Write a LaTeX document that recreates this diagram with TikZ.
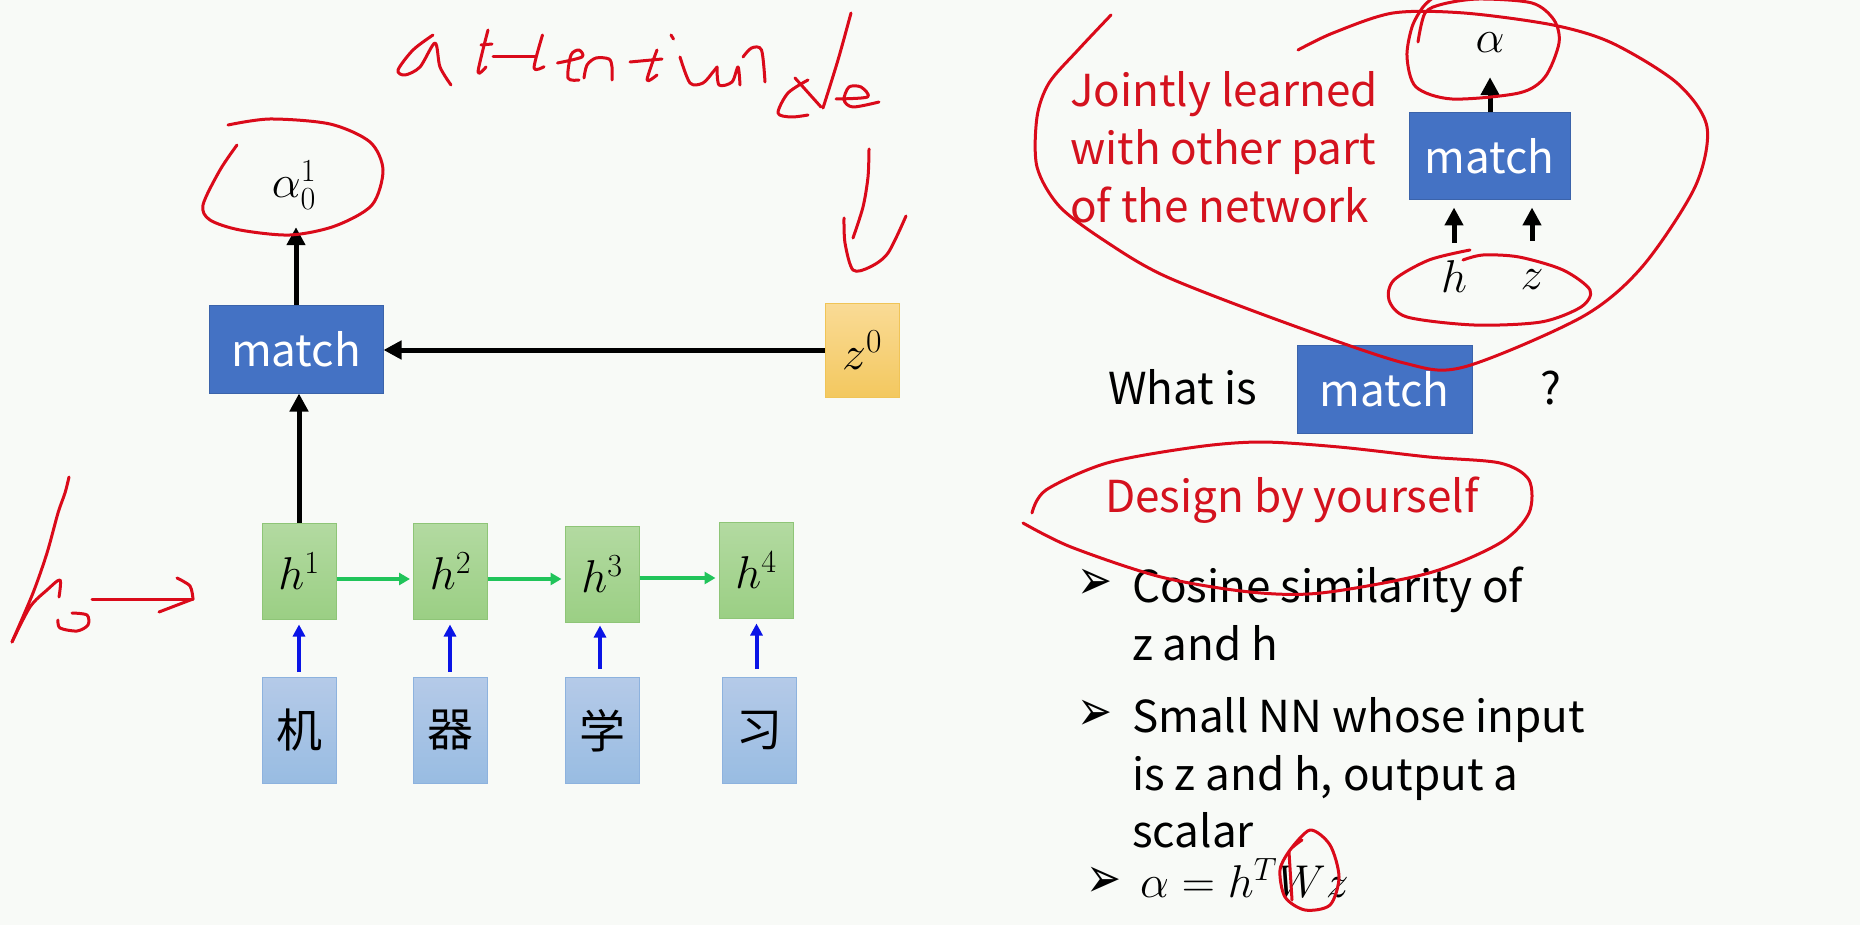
\RequirePackage{fix-cm}
\documentclass[tikz,border=0pt]{standalone}
\usepackage{fontspec}
\usepackage{graphicx}
\setmainfont{Noto Sans CJK SC}
\newfontfamily\dejavu{DejaVu Sans}
\usetikzlibrary{arrows.meta}
\definecolor{bgc}{HTML}{F8FAF7}
\definecolor{mblue}{HTML}{4472C4}
\definecolor{mborder}{HTML}{3B63AA}
\definecolor{htop}{HTML}{B3DAA1}
\definecolor{hbot}{HTML}{9BCF84}
\definecolor{hborder}{HTML}{8EC577}
\definecolor{itop}{HTML}{B5CAE8}
\definecolor{ibot}{HTML}{98BCE2}
\definecolor{iborder}{HTML}{8DB2DE}
\definecolor{ztop}{HTML}{FADB96}
\definecolor{zbot}{HTML}{F3C85F}
\definecolor{zborder}{HTML}{F0C457}
\definecolor{agreen}{HTML}{20C45A}
\definecolor{ablue}{HTML}{0A14E6}
\definecolor{pen}{HTML}{DA0A1A}
\definecolor{txtred}{HTML}{D4121E}
\newcommand{\bulletglyph}{\scalebox{1.1}[1.5]{➢}}
\begin{document}
\begin{tikzpicture}[x=1pt,y=-1pt,
  matchbox/.style={draw=mborder,fill=mblue,line width=1pt,inner sep=0pt,text=white,font=\fontsize{44}{50}\selectfont},
  hbox/.style={draw=hborder,line width=1pt,top color=htop,bottom color=hbot,minimum width=74pt,minimum height=96pt,inner sep=0pt,font=\fontsize{46}{50}\selectfont},
  inbox/.style={draw=iborder,line width=1pt,top color=itop,bottom color=ibot,minimum width=74pt,minimum height=106pt,inner sep=0pt,font=\fontsize{46}{50}\selectfont},
  zbox/.style={draw=zborder,line width=1pt,top color=ztop,bottom color=zbot,minimum width=74pt,minimum height=94pt,inner sep=0pt,font=\fontsize{48}{50}\selectfont},
  mathtxt/.style={font=\fontsize{46}{50}\selectfont},
  plain/.style={font=\fontsize{44}{50}\selectfont,anchor=base west,inner sep=0pt},
  redtxt/.style={plain,text=txtred},
  bul/.style={font=\dejavu\fontsize{38}{38}\selectfont,inner sep=0pt},
  blk/.style={line width=5pt,-{Triangle[length=18pt,width=18pt]}},
  grn/.style={line width=4pt,draw=agreen,-{Triangle[length=11pt,width=12pt]}},
  blu/.style={line width=4pt,draw=ablue,-{Triangle[length=12pt,width=12pt]}},
  penline/.style={draw=pen,line width=3pt,line cap=round,line join=round}
]
\fill[bgc] (0,0) rectangle (1860,925);
\useasboundingbox (0,0) rectangle (1860,925);

% ---------- left diagram ----------
\node[matchbox,minimum width=174pt,minimum height=88pt] (m1) at (296,349) {match};
\node[zbox] (z0) at (862,350) {$z^0$};
\node[mathtxt,anchor=base,text depth=12pt,inner sep=17pt] (a01) at (294,198) {$\alpha_0^1$};
\node[hbox] (h1) at (299,571) {$h^1$};
\node[hbox] (h2) at (450.5,571) {$h^2$};
\node[hbox] (h3) at (602,574) {$h^3$};
\node[hbox] (h4) at (756,570) {$h^4$};
\node[inbox] (c1) at (299,730.5) {机};
\node[inbox] (c2) at (450,730.5) {器};
\node[inbox] (c3) at (602,730.5) {学};
\node[inbox] (c4) at (759.5,730.5) {习};

\draw[blk] (m1.north) -- (m1.north |- a01.south);
\draw[blk] (z0.west) -- (z0.west -| m1.east);
\draw[blk] (h1.north) -- (h1.north |- m1.south);
\draw[grn,shorten >=3pt] ([yshift=-8pt]h1.east) -- ([yshift=-8pt]h1.east -| h2.west);
\draw[grn,shorten >=3pt] ([yshift=-8pt]h2.east) -- ([yshift=-8pt]h2.east -| h3.west);
\draw[grn,shorten >=3pt] ([yshift=-4pt]h3.east) -- ([yshift=-4pt]h3.east -| h4.west);
\draw[blu,shorten >=5pt,shorten <=5pt] (c1.north) -- (c1.north |- h1.south);
\draw[blu,shorten >=5pt,shorten <=5pt] (c2.north) -- (c2.north |- h2.south);
\draw[blu,shorten >=3pt,shorten <=8pt] ([xshift=-2pt]c3.north) -- ([xshift=-2pt]c3.north |- h3.south);
\draw[blu,shorten >=5pt,shorten <=8pt] ([xshift=-3pt]c4.north) -- ([xshift=-3pt]c4.north |- h4.south);

% ---------- right diagram ----------
\node[matchbox,minimum width=161pt,minimum height=87pt] (m2) at (1489.5,156.5) {match};
\node[mathtxt,anchor=base,text depth=0pt,inner sep=24pt] (al) at (1490,53) {$\alpha$};
\node[mathtxt,anchor=base,text height=31pt,text depth=0pt,inner sep=18pt] (hs) at (1454,292) {$h$};
\node[mathtxt,anchor=base,text height=31pt,text depth=0pt,inner sep=18pt] (zs) at (1532,290) {$z$};
\draw[blk] (m2.north -| al.south) -- (al.south);
\draw[blk,shorten >=7pt] (hs.north) -- (hs.north |- m2.south);
\draw[blk,shorten >=7pt] (zs.north) -- (zs.north |- m2.south);

\node[redtxt] (j1) at (1070,107) {Jointly learned};
\node[redtxt] (j2) at (1070,165) {with other part};
\node[redtxt] (j3) at (1070,223) {of the network};

\node[plain] (what) at (1108,404) {What is};
\node[matchbox,minimum width=175pt,minimum height=88pt] (m3) at (1384.5,389) {match};
\node[plain] (qm) at (1540,404) {?};

\node[redtxt] (design) at (1105,512) {Design by yourself};

\node[bul] (b1) at (1095,584) {\bulletglyph};
\node[plain] (t1) at (1132,602) {Cosine similarity of};
\node[plain] (t2) at (1132,660) {z and h};
\node[bul] (b2) at (1095,715) {\bulletglyph};
\node[plain] (t3) at (1132,732) {Small NN whose input};
\node[plain] (t4) at (1132,790) {is z and h, output a};
\node[plain] (t5) at (1132,847) {scalar};
\node[bul] (b3) at (1104,882) {\bulletglyph};
\node[mathtxt,anchor=base west,inner sep=0pt] (f) at (1140,897) {$\alpha = h^T W z$};

% ---------- handwritten annotations ----------
% attention de
\draw[penline] plot[smooth] coordinates {(433,35)(413,50)(398,70)(405,75)(420,67)(435,43)(440,67)(451,85)};
\draw[penline] plot[smooth] coordinates {(488,30)(478,72)(486,67)};
\draw[penline] (481,45) -- (492,44);
\draw[penline] (493,57) -- (536,57);
\draw[penline] plot[smooth] coordinates {(542.5,35)(534,68)(544,66.7)};
\draw[penline] plot[smooth] coordinates {(557.5,63)(582,57)(579,50)(571,55)(568,78)(579,80)};
\draw[penline] plot[smooth] coordinates {(584,78)(587,65)(596,58)(609,59)(612,67)(612,80)};
\draw[penline] (630,62) -- (662,59);
\draw[penline] plot[smooth] coordinates {(657,50)(647,80)(657,75)};
\draw[penline] (671,35) -- (673.5,39);
\draw[penline] plot[smooth] coordinates {(680,57)(690,83)(703,83)(713,72)(717,67)};
\draw[penline] plot[smooth] coordinates {(717,67)(719,85)(732,82)(738,67)(740,85)};
\draw[penline] plot[smooth] coordinates {(743,57)(751.5,48)(761.5,50)(765,82)};
\draw[penline] plot[smooth] coordinates {(808,80)(788,93)(778,113)(791,117)(808,115)};
\draw[penline] (795,78) -- (821,107);
\draw[penline] plot[smooth] coordinates {(851,13)(838,60)(823,108)};
\draw[penline] plot[smooth] coordinates {(836,99)(867.6,97)(861,87)(849,87)(844,100)(853,107)(879,102)};
% down arrow to z0
\draw[penline] plot[smooth] coordinates {(869,149)(868,177)(863,207)(853,238)};
\draw[penline] plot[smooth] coordinates {(844,218)(845,243)(853,270)(870,267)(888,253)(906,216)};
% circle around alpha_0^1
\draw[penline] plot[smooth] coordinates {(237,145)(220,170)(203,205)(210,220)(240,230)(290,235)(335,226)(372,205)(383,170)(370,142)(330,124)(270,119)(228,125)};
% h ->
\draw[penline] plot[smooth] coordinates {(69,477)(65,493)(58,513)(47,553)(33,593)(12,642)};
\draw[penline] plot[smooth] coordinates {(12,642)(30,607)(47,590)(60,580)(59,597)};
\draw[penline] plot[smooth] coordinates {(72,613)(87,615)(88,625)(77,631)(60,628)(58,620)};
\draw[penline] (92,599) -- (193,599);
\draw[penline] plot[smooth] coordinates {(177,578)(190,586)(193,599)};
\draw[penline] (193,599) -- (159,612);
% big loop
\draw[penline] plot[smooth] coordinates {(1111,15)(1078,50)(1049,83)(1037,117)(1037,167)(1060,207)(1108,243)(1167,277)(1286,323)(1404,363)(1464,367)(1582,317)(1642,267)(1695,187)(1707,127)(1677,83)(1612,43)(1553,25)(1464,13)(1393,13)(1333,33)(1298,50)};
% circle around alpha
\draw[penline] plot[smooth] coordinates {(1418,42)(1425,13)(1443,4)(1479,-1)(1532,3)(1554,20)(1559,43)(1545,77)(1519,93)(1452,99)(1416,87)(1407,57)(1412,27)(1423,7)(1434,-3)};
% ellipse around h z
\draw[penline] plot[smooth] coordinates {(1470,250)(1429,260)(1394,280)(1389,300)(1407,317)(1474,325)(1541,322)(1581,307)(1590,290)(1563,270)(1519,257)(1483,255)(1463,260)};
% ellipse around Design by yourself
\draw[penline] plot[smooth] coordinates {(1032,513)(1046,490)(1107,463)(1196,447)(1261,442)(1339,447)(1429,457)(1500,463)(1529,480)(1529,513)(1500,543)(1429,573)(1321,593)(1250,592)(1161,577)(1071,547)(1023,523)};
% circle around W
\draw[penline] plot[smooth] coordinates {(1290,850)(1310,830)(1330,845)(1339,877)(1330,905)(1305,910)(1285,897)(1280,870)(1290,850)(1302,840)};
\draw[penline] (1289,852) -- (1292,900);
\end{tikzpicture}
\end{document}
